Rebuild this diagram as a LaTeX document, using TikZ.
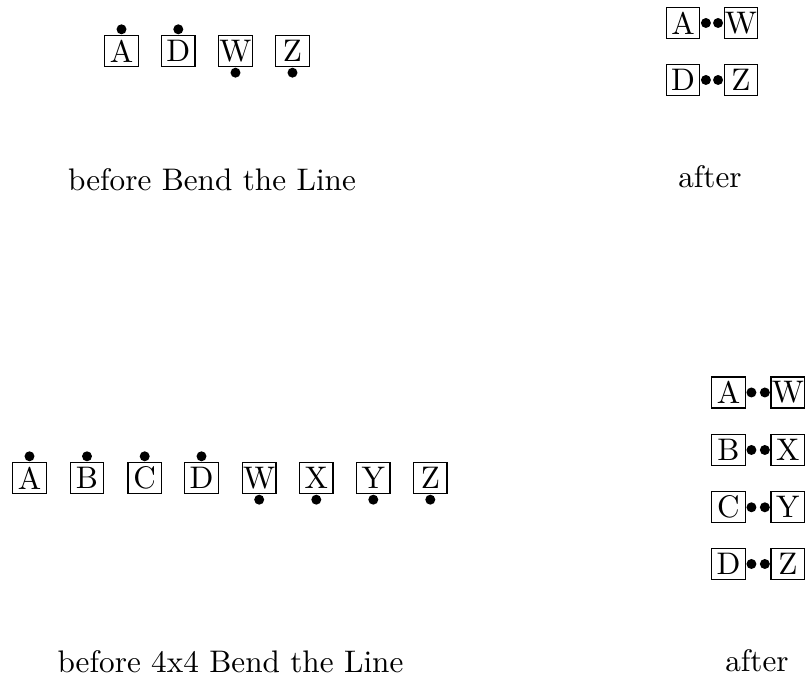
\documentclass[tikz,border=0pt]{standalone}
\begin{document}
\begin{tikzpicture}[x=0.3205pt,y=-0.3205pt,
  lbox/.style={draw,line width=0.4pt,inner sep=0pt,minimum width=10.7pt,minimum height=9.9pt},
  pdot/.style={circle,fill=black,inner sep=0pt,minimum size=3.2pt},
  lbl/.style={anchor=base,inner sep=0pt}]
\useasboundingbox (0,0) rectangle (805,679);
% top left
\node[lbox] (tA) at (121.5,51) {A};
\node[lbox] (tD) at (178.3,51) {D};
\node[lbox] (tW) at (235.5,51) {W};
\node[lbox] (tZ) at (292.5,51) {Z};
\node[pdot,anchor=south] (tAd) at (tA.north) {};
\node[pdot,anchor=south] (tDd) at (tD.north) {};
\node[pdot,anchor=north] (tWd) at (tW.south) {};
\node[pdot,anchor=north] (tZd) at (tZ.south) {};
% top right
\node[lbox] (rA) at (683,23) {A};
\node[lbox] (rW) at (741,23) {W};
\node[lbox] (rD) at (683,80) {D};
\node[lbox] (rZ) at (741,80) {Z};
\node[pdot,anchor=west] (rAd) at (rA.east) {};
\node[pdot,anchor=east] (rWd) at (rW.west) {};
\node[pdot,anchor=west] (rDd) at (rD.east) {};
\node[pdot,anchor=east] (rZd) at (rZ.west) {};
\node[lbl] (l1) at (212,190.5) {before Bend the Line};
\node[lbl] (l2) at (710,187.3) {after};
% bottom left
\foreach \n/\x in {A/29.5,B/87,C/144.7,D/201.5}{
  \node[lbox] (b\n) at (\x,478) {\n};
  \node[pdot,anchor=south] (b\n d) at (b\n.north) {};
}
\foreach \n/\x in {W/259.2,X/316.3,Y/373.3,Z/430.3}{
  \node[lbox] (b\n) at (\x,478) {\n};
  \node[pdot,anchor=north] (b\n d) at (b\n.south) {};
}
% bottom right
\foreach \a/\b/\y in {A/W/392.5,B/X/450,C/Y/507.3,D/Z/564}{
  \node[lbox] (s\a) at (728.5,\y) {\a};
  \node[lbox] (s\b) at (787.8,\y) {\b};
  \node[pdot,anchor=west] (s\a d) at (s\a.east) {};
  \node[pdot,anchor=east] (s\b d) at (s\b.west) {};
}
\node[lbl] (l3) at (230.5,672.5) {before 4x4 Bend the Line};
\node[lbl] (l4) at (757,671.5) {after};
\end{tikzpicture}
\end{document}
